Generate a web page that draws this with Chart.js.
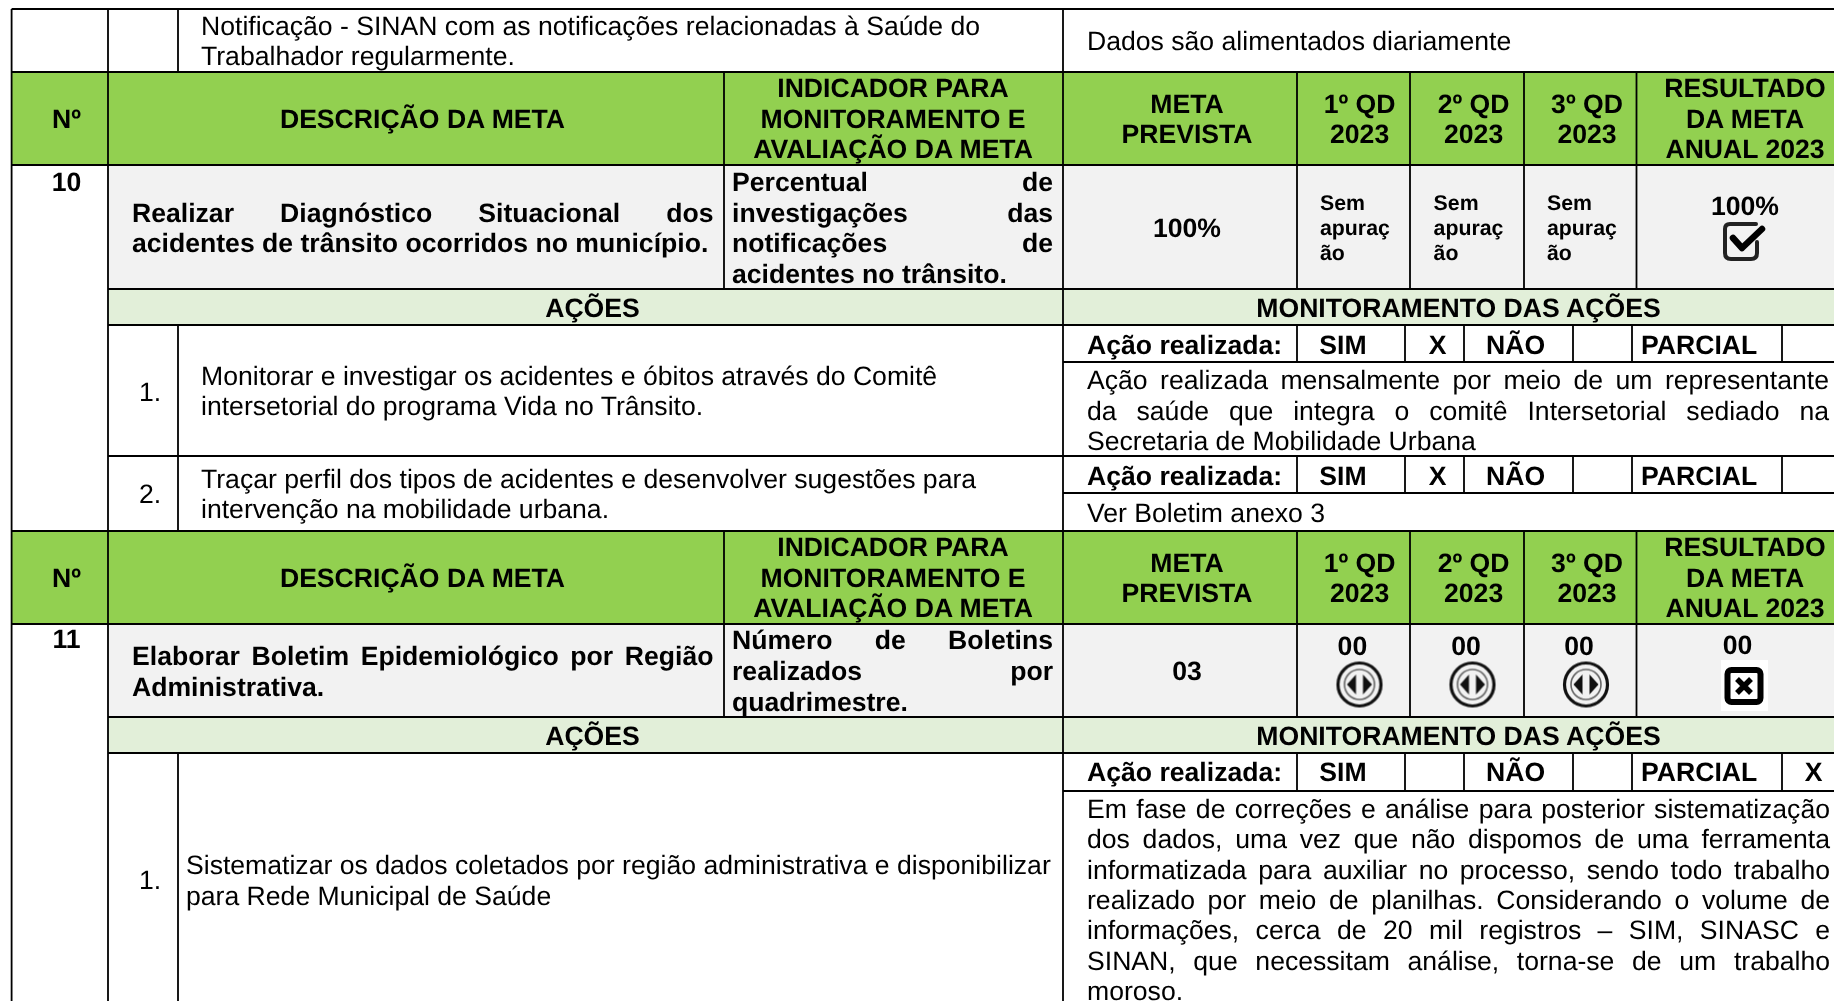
<!DOCTYPE html>
<html lang="pt">
<head>
<meta charset="utf-8">
<title>Monitoramento das metas 2023</title>
<script src="https://cdn.jsdelivr.net/npm/chart.js@4"></script>
<style>
	html, body { margin: 0; background: #fff; overflow: hidden; }
	canvas { display: block; }
</style>
</head>
<body>
<canvas id="tableChart" width="1834" height="1001"></canvas>
<script>
// texts of the table
const topRow = ['Notificação - SINAN com as notificações relacionadas à Saúde do', 'Trabalhador regularmente.'];
const topNote = ['Dados são alimentados diariamente'];
const headNo = ['Nº'];
const headDesc = ['DESCRIÇÃO DA META'];
const headInd = ['INDICADOR PARA', 'MONITORAMENTO E', 'AVALIAÇÃO DA META'];
const headMeta = ['META', 'PREVISTA'];
const headQd = [['1º QD', '2023'], ['2º QD', '2023'], ['3º QD', '2023']];
const headRes = ['RESULTADO', 'DA META', 'ANUAL 2023'];
const barLabels = ['AÇÕES', 'MONITORAMENTO DAS AÇÕES'];
const actionLabels = ['Ação realizada:', 'SIM', 'NÃO', 'PARCIAL', 'X'];

const goalNumbers = ['10', '11'];
const goal10 = ['Realizar Diagnóstico Situacional dos', 'acidentes de trânsito ocorridos no município.'];
const ind10 = ['Percentual de', 'investigações das', 'notificações de', 'acidentes no trânsito.'];
const goal11 = ['Elaborar Boletim Epidemiológico por Região', 'Administrativa.'];
const ind11 = ['Número de Boletins', 'realizados por', 'quadrimestre.'];
const planned = ['100%', '03'];
const semApuracao = ['Sem', 'apuraç', 'ão'];
const result10 = '100%';
const quarter11 = '00';

const action101 = ['Monitorar e investigar os acidentes e óbitos através do Comitê', 'intersetorial do programa Vida no Trânsito.'];
const action102 = ['Traçar perfil dos tipos de acidentes e desenvolver sugestões para', 'intervenção na mobilidade urbana.'];
const action111 = ['Sistematizar os dados coletados por região administrativa e disponibilizar', 'para Rede Municipal de Saúde'];
const itemNumbers = ['1.', '2.'];
const note101 = ['Ação realizada mensalmente por meio de um representante', 'da saúde que integra o comitê Intersetorial sediado na', 'Secretaria de Mobilidade Urbana'];
const note102 = ['Ver Boletim anexo 3'];
const note111 = [
	'Em fase de correções e análise para posterior sistematização',
	'dos dados, uma vez que não dispomos de uma ferramenta',
	'informatizada para auxiliar no processo, sendo todo trabalho',
	'realizado por meio de planilhas. Considerando o volume de',
	'informações, cerca de 20 mil registros – SIM, SINASC e',
	'SINAN, que necessitam análise, torna-se de um trabalho',
	'moroso.'
];

// table grid (one scale unit = one pixel)
const W = 1834, H = 1001;
const colLeft = 11.6, colNo = 108, colItem = 178, colInd = 724, colMon = 1063;
const colQd = [1297, 1410, 1524, 1636.5];
const colAct = [1297, 1405, 1464, 1573, 1632, 1782];
const GREEN = '#92D050', GRAY = '#F2F2F2', PALE = '#E2EFD9';

const fills = [
	[colLeft, W, 72, 165, GREEN],
	[colNo, W, 165, 289, GRAY],
	[colNo, W, 289, 325, PALE],
	[colLeft, W, 531, 624, GREEN],
	[colNo, W, 624, 717, GRAY],
	[colNo, W, 717, 753, PALE]
];

const hRules = [
	[9, colLeft, W], [72, colLeft, W], [165, colLeft, W], [289, colNo, W], [325, colNo, W],
	[456, colNo, W], [531, colLeft, W], [624, colLeft, W], [717, colNo, W], [753, colNo, W],
	[362, colMon, W], [493, colMon, W], [791, colMon, W]
];
const vRules = [
	[colLeft, 9, H], [colNo, 9, H], [colMon, 9, H],
	[colItem, 9, 72], [colItem, 325, 531], [colItem, 753, H],
	[colInd, 72, 289], [colInd, 531, 717]
];
colQd.forEach(x => vRules.push([x, 72, 289], [x, 531, 717]));
colAct.forEach(x => vRules.push([x, 325, 362], [x, 456, 493], [x, 753, 791]));

// status icons, drawn once and used as point styles
function iconCanvas(w, h, paint) {
	const c = document.createElement('canvas');
	c.width = w; c.height = h;
	const g = c.getContext('2d');
	g.filter = 'blur(0.6px)';
	paint(g);
	return c;
}
const checkIcon = iconCanvas(48, 44, g => {
	g.lineWidth = 4; g.strokeStyle = '#222'; g.lineCap = 'round'; g.lineJoin = 'round';
	g.beginPath();
	g.moveTo(35, 4); g.lineTo(9, 4); g.quadraticCurveTo(4, 4, 4, 9); g.lineTo(4, 33);
	g.quadraticCurveTo(4, 39, 10, 39); g.lineTo(30, 39); g.quadraticCurveTo(36, 39, 36, 33); g.lineTo(36, 22);
	g.stroke();
	g.lineWidth = 6.5; g.strokeStyle = '#000';
	g.beginPath(); g.moveTo(12, 18); g.lineTo(21, 28); g.lineTo(41, 9); g.stroke();
});
const waitIcon = iconCanvas(50, 50, g => {
	g.strokeStyle = '#111'; g.fillStyle = '#111';
	g.lineWidth = 3.2; g.beginPath(); g.arc(25, 25, 21.5, 0, Math.PI * 2); g.stroke();
	g.lineWidth = 1.6; g.strokeStyle = '#666'; g.beginPath(); g.arc(25, 25, 15, 0, Math.PI * 2); g.stroke();
	g.beginPath(); g.moveTo(21.5, 15); g.lineTo(21.5, 35); g.lineTo(12.5, 25); g.closePath(); g.fill();
	g.beginPath(); g.moveTo(28.5, 15); g.lineTo(28.5, 35); g.lineTo(37.5, 25); g.closePath(); g.fill();
});
const failIcon = iconCanvas(47, 51, g => {
	g.filter = 'none'; g.fillStyle = '#fff'; g.fillRect(0, 0, 47, 51);
	g.filter = 'blur(0.6px)';
	g.strokeStyle = '#000'; g.lineWidth = 6; g.lineJoin = 'round';
	g.beginPath(); g.roundRect(6.5, 10, 33, 32, 4); g.stroke();
	g.lineWidth = 5.5; g.lineCap = 'butt';
	g.beginPath(); g.moveTo(16, 19); g.lineTo(30, 33); g.moveTo(30, 19); g.lineTo(16, 33); g.stroke();
});
const checkPoints = [{ x: 1745, y: 242 }];
const waitPoints = [{ x: 1359.5, y: 684.5 }, { x: 1472.5, y: 684.5 }, { x: 1586, y: 684.5 }];
const failPoints = [{ x: 1744.5, y: 685.5 }];

const datasets = [];
// cell backgrounds are floating bars
fills.forEach(([x0, x1, y0, y1, color]) => datasets.push({
	type: 'bar',
	data: [{ x: (x0 + x1) / 2, y: [y0, y1] }],
	barThickness: x1 - x0,
	grouped: false,
	backgroundColor: color,
	borderWidth: 0,
	order: 5
}));
// cell borders are two point lines
function rule(p0, p1, width) {
	datasets.push({
		type: 'line',
		data: [p0, p1],
		borderColor: '#000',
		borderWidth: width,
		pointRadius: 0,
		fill: false,
		order: 3
	});
}
hRules.forEach(([y, x0, x1]) => rule({ x: x0, y }, { x: x1, y }, 2.2));
vRules.forEach(([x, y0, y1]) => rule({ x, y: y0 }, { x, y: y1 }, 1.8));
[[checkIcon, checkPoints], [waitIcon, waitPoints], [failIcon, failPoints]].forEach(([icon, pts]) => datasets.push({
	type: 'line',
	data: pts,
	showLine: false,
	pointStyle: icon,
	pointRadius: 12,
	order: 1
}));

const REG = 26.6, SMALL = 21.3;
const FACE = '"Liberation Sans", Arial, sans-serif';

function drawLines(chart, lines, x, ys, o) {
	const ctx = chart.ctx, sx = chart.scales.x, sy = chart.scales.y;
	o = o || {};
	ctx.font = (o.bold ? 'bold ' : '') + (o.size || REG) + 'px ' + FACE;
	ctx.textRendering = 'geometricPrecision';
	ctx.textAlign = o.center ? 'center' : 'left';
	ctx.textBaseline = 'alphabetic';
	ctx.fillStyle = '#000';
	lines.forEach((line, i) => {
		ctx.wordSpacing = '0px';
		const gaps = line.split(' ').length - 1;
		// justified cells stretch every line but the last
		if (o.to && gaps > 0 && i < lines.length - 1) {
			ctx.wordSpacing = (o.to - x - ctx.measureText(line).width) / gaps + 'px';
		}
		ctx.fillText(line, sx.getPixelForValue(x), sy.getPixelForValue(ys[i]));
	});
	ctx.wordSpacing = '0px';
}

const textPlugin = {
	id: 'tableText',
	afterDatasetsDraw(chart) {
		const put = (lines, x, ys, o) => drawLines(chart, lines, x, ys, o);
		const B = { bold: true }, C = { bold: true, center: true };
		put(topRow, 201, [35, 65]);
		put(topNote, 1087, [50]);

		// both green header rows
		[0, 459].forEach(d => {
			put(headNo, 66.5, [127.7 + d], C);
			put(headDesc, 422.5, [127.7 + d], C);
			put(headInd, 893, [96.7 + d, 127.7 + d, 158.3 + d], C);
			put(headMeta, 1187, [112.7 + d, 143.3 + d], C);
			headQd.forEach((q, i) => put(q, [1359.6, 1473.6, 1587][i], [112.7 + d, 143.3 + d], C));
			put(headRes, 1745, [96.7 + d, 127.7 + d, 158.3 + d], C);
		});

		// goal 10
		put([goalNumbers[0]], 66.5, [191], C);
		put(goal10, 132, [221.7, 251.7], { bold: true, to: 713.5 });
		put(ind10, 732, [191, 221.7, 251.7, 282.7], { bold: true, to: 1053 });
		put([planned[0]], 1187, [237], C);
		[1320, 1433.6, 1547].forEach(x => put(semApuracao, x, [210, 235, 260], { bold: true, size: SMALL }));
		put([result10], 1745, [215], C);
		put([barLabels[0]], 592.5, [316.7], C);
		put([barLabels[1]], 1458.5, [316.7], C);

		// goal 11
		put([goalNumbers[1]], 66.5, [648], C);
		put(goal11, 132, [665, 696], { bold: true, to: 713.5 });
		put(ind11, 732, [649, 680, 711], { bold: true, to: 1053 });
		put([planned[1]], 1187, [680], C);
		[1352.4, 1466, 1579].forEach(x => put([quarter11], x, [655], C));
		put([quarter11], 1737.6, [654], C);
		put([barLabels[0]], 592.5, [745], C);
		put([barLabels[1]], 1458.5, [745], C);

		// "Ação realizada" strips
		[[353.5, 1437.6], [484.5, 1437.6], [781, 1813.7]].forEach(([y, xMark]) => {
			put([actionLabels[0]], 1087, [y], B);
			put([actionLabels[1]], 1343, [y], C);
			put([actionLabels[2]], 1515.6, [y], C);
			put([actionLabels[3]], 1641, [y], B);
			put([actionLabels[4]], xMark, [y], C);
		});

		// action items and their notes
		put([itemNumbers[0]], 150, [401], { center: true });
		put(action101, 201, [385, 415]);
		put(note101, 1087, [388.5, 419.5, 450], { to: 1829 });
		put([itemNumbers[1]], 150, [503], { center: true });
		put(action102, 201, [488, 518]);
		put(note102, 1087, [521.5]);
		put([itemNumbers[0]], 150, [889], { center: true });
		put(action111, 186, [874, 905]);
		put(note111, 1087, [818, 848, 878.5, 909, 939, 969.5, 999.5], { to: 1830 });
	}
};

new Chart(document.getElementById('tableChart'), {
	data: { datasets },
	options: {
		responsive: false,
		animation: false,
		events: [],
		layout: { padding: 0, autoPadding: false },
		plugins: { legend: { display: false }, tooltip: { enabled: false } },
		scales: {
			x: { type: 'linear', min: 0, max: W, display: false, offset: false },
			y: { type: 'linear', min: 0, max: H, reverse: true, display: false }
		}
	},
	plugins: [textPlugin]
});
</script>
</body>
</html>
